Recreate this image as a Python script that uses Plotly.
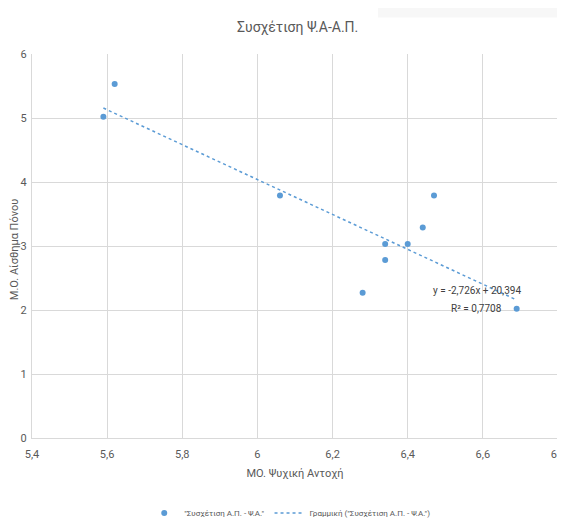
import plotly.graph_objects as go

# Data
psych_resilience = [5.59, 5.62, 6.06, 6.28, 6.34, 6.34, 6.40, 6.44, 6.47, 6.69]
pain_feeling = [5.02, 5.53, 3.79, 2.27, 3.03, 2.78, 3.03, 3.29, 3.79, 2.02]
trend_slope = -2.726
trend_intercept = 20.394
r_squared = 0.7708
x_ticks = [5.4, 5.6, 5.8, 6.0, 6.2, 6.4, 6.6, 6.8]
y_ticks = [0, 1, 2, 3, 4, 5, 6]

series_name = '"Συσχέτιση Α.Π. - Ψ.Α."'
trend_name = 'Γραμμική ("Συσχέτιση Α.Π. - Ψ.Α.")'

FONT = "Liberation Sans Narrow, Arial Narrow, Roboto, Liberation Sans, sans-serif"
BLUE = "#5b9bd5"
GRID = "#d9d9d9"
TXT = "#595959"

x_lo, x_hi = min(psych_resilience), max(psych_resilience)
trend_x = [x_lo, x_hi]
trend_y = [trend_slope * v + trend_intercept for v in trend_x]

fig = go.Figure()
fig.add_trace(go.Scatter(
    x=psych_resilience, y=pain_feeling, mode="markers", name=series_name,
    marker=dict(color=BLUE, size=6),
))
fig.add_trace(go.Scatter(
    x=trend_x, y=trend_y, mode="lines", name=trend_name,
    line=dict(color=BLUE, width=1.5, dash="dot"),
))

def fmt(v, d):
    return f"{v:.{d}f}".replace(".", ",")

eq_text = f"y = {fmt(trend_slope, 3)}x + {fmt(trend_intercept, 3)}"
r2_text = f"R² = {fmt(r_squared, 4)}"

fig.update_layout(
    width=557, height=515,
    margin=dict(l=24, r=7, t=46, b=85, autoexpand=False),
    paper_bgcolor="white", plot_bgcolor="white",
    separators=",.",
    font=dict(family=FONT, color=TXT, size=11),
    title=dict(text="Συσχέτιση Ψ.Α-Α.Π.", x=0.52, xanchor="center",
               y=0.962, yanchor="middle", font=dict(size=14, color=TXT, family=FONT)),
    xaxis=dict(range=[5.4, 6.8], tickvals=x_ticks, showgrid=True, gridcolor=GRID,
               gridwidth=1, showline=True, linecolor=GRID, linewidth=1, zeroline=False,
               automargin=False, ticklabeloverflow="allow",
               ticks="outside", ticklen=6, tickcolor="rgba(0,0,0,0)",
               tickfont=dict(size=11, color=TXT),
               title=dict(text="ΜΟ. Ψυχική Αντοχή", font=dict(size=11, color=TXT), standoff=9)),
    yaxis=dict(range=[0, 6], tickvals=y_ticks, showgrid=True, gridcolor=GRID,
               gridwidth=1, showline=True, linecolor=GRID, linewidth=1, zeroline=False,
               automargin=False,
               ticks="outside", ticklen=2, tickcolor="rgba(0,0,0,0)",
               tickfont=dict(size=11, color=TXT)),
    legend=dict(orientation="h", x=0.49, xanchor="center", y=-0.195, yanchor="middle",
                font=dict(size=8, color=TXT), bgcolor="rgba(0,0,0,0)"),
    showlegend=True,
)

fig.add_annotation(x=-0.0335, y=0.49, xref="paper", yref="paper", text="Μ.Ο. Αίσθημα Πόνου",
                   textangle=-90, showarrow=False, xanchor="center", yanchor="middle",
                   font=dict(size=11, color=TXT, family=FONT))

fig.add_annotation(x=6.584, y=2.30, xref="x", yref="y", text=eq_text, showarrow=False,
                   font=dict(size=10, color="#404040", family=FONT))
fig.add_annotation(x=6.584, y=2.03, xref="x", yref="y", text=r2_text, showarrow=False,
                   font=dict(size=10, color="#404040", family=FONT))

fig.add_shape(type="rect", xref="paper", yref="paper", x0=0.658, x1=1.02, y0=1.095, y1=1.2,
              fillcolor="#f7f7f7", line=dict(width=0), layer="below")

fig.write_html("out.html")
